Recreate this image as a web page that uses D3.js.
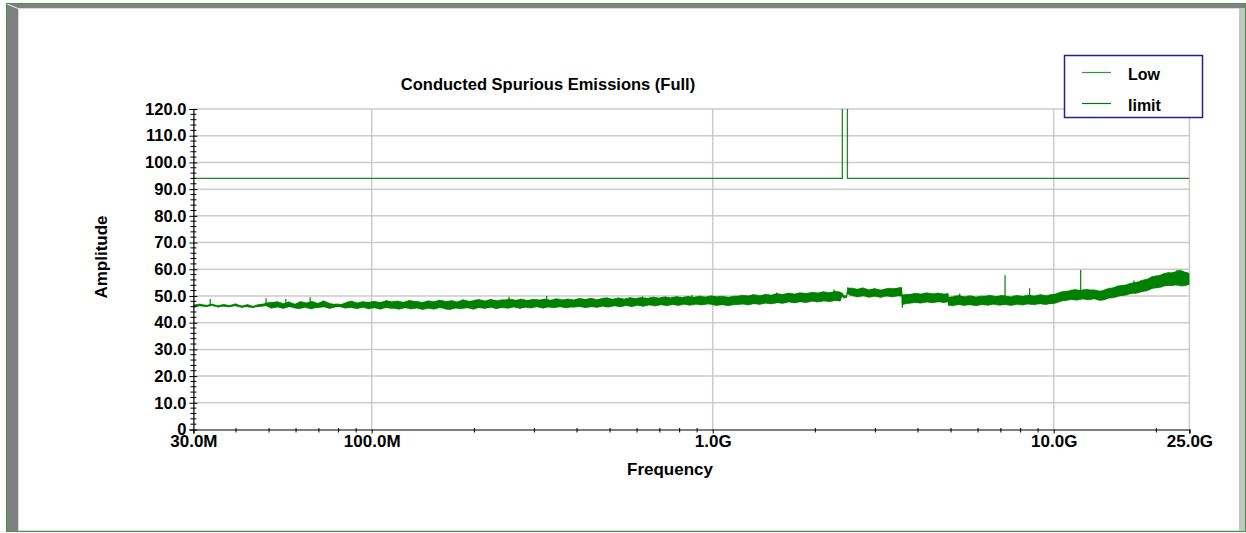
<!DOCTYPE html>
<html>
<head>
<meta charset="utf-8">
<script src="https://cdn.jsdelivr.net/npm/d3@7"></script>
<style>
  body { margin: 0; background: #fff; }
  text { font-family: "Liberation Sans", Arial, sans-serif; font-weight: bold; fill: #000; }
</style>
</head>
<body>
<svg id="chart" width="1246" height="533"></svg>
<script>
// sweep of the "Low" trace: frequency (MHz) with the min / max level of the noise band
const traceFreq = [
  30, 31.5, 33, 34.2, 35.6, 37, 38.5, 40, 41.7, 43.4, 45, 46.8, 48.7, 50.6, 52.7, 54.8, 57, 59.3,
  61.6, 64, 66.6, 69.3, 72, 74.9, 77.9, 81, 84.2, 87.6, 91, 94.7, 98.5, 102.4, 106.5, 110.8, 115.2,
  119.8, 124.6, 129.6, 134.8, 140.2, 145.8, 151.6, 157.7, 164, 170.6, 177.4, 184.5, 191.9, 199.6,
  207.6, 215.9, 224.5, 233.5, 242.8, 252.5, 262.6, 273.1, 284, 295.4, 307.2, 319.5, 332.3, 345.6,
  359.4, 373.8, 388.7, 404.3, 420.5, 437.3, 454.8, 473, 491.9, 511.6, 532, 553.3, 575.5, 598.5,
  622.4, 647.3, 673.2, 700.1, 728.1, 757.3, 787.6, 819.1, 851.8, 885.9, 921.3, 958.2, 996.5,
  1036, 1078, 1121, 1166, 1212, 1261, 1311, 1364, 1418, 1475, 1534, 1595, 1659, 1725, 1794, 1866,
  1941, 2018, 2099, 2183, 2270, 2361, 2395, 2420, 2470, 2490, 2540, 2640, 2745, 2855, 2970, 3090,
  3210, 3340, 3475, 3585, 3600, 3740, 3890, 4045, 4210, 4380, 4555, 4735, 4895, 4905, 5100, 5300,
  5515, 5735, 5965, 6205, 6455, 6710, 6980, 7260, 7550, 7850, 8165, 8490, 8830, 9185, 9550, 9935,
  10330, 10745, 11175, 11620, 12085, 12570, 13070, 13595, 14140, 14705, 15290, 15900, 16540,
  17200, 17890, 18600, 19345, 20120, 20925, 21760, 22630, 23535, 24480, 25000
]
const traceMin = [
  45.6, 46.2, 46.0, 46.3, 45.8, 46.1, 45.9, 46.2, 45.7, 45.9, 45.6, 46.0, 46.3, 45.4, 45.8, 45.3, 45.9, 45.5,
  45.2, 45.7, 45.1, 45.6, 45.9, 45.3, 45.8, 45.9, 45.4, 45.6, 45.2, 45.7, 45.1, 45.5, 45.0, 45.6, 45.3,
  45.0, 45.5, 45.1, 45.4, 44.9, 45.3, 45.0, 45.6, 45.1, 44.9, 45.4, 45.2, 45.5, 45.0,
  45.6, 45.3, 45.7, 45.2, 45.6, 45.4, 45.8, 45.3, 45.7, 45.5, 45.9, 45.4, 45.8, 45.6,
  45.9, 45.5, 45.8, 46.0, 45.6, 45.9, 45.7, 46.1, 45.8, 46.2, 45.9, 46.3, 46.0, 46.4,
  46.1, 46.5, 46.2, 46.6, 46.3, 46.7, 46.4, 46.8, 46.5, 46.8, 46.6, 46.9, 46.7,
  46.4, 46.6, 46.3, 46.7, 46.9, 46.6, 47.0, 46.8, 47.2, 47.0, 47.4, 47.2, 47.6, 47.4, 47.7, 47.5,
  47.9, 47.7, 48.0, 47.8, 48.2, 48.0, 49.8, 49.2, 49.4, 50.8, 50.2, 49.6, 50.0, 49.5, 49.8, 49.4,
  49.9, 49.6, 50.0, 49.8, 46.6, 47.2, 47.5, 47.3, 47.6, 47.4, 47.7, 47.5, 47.8, 46.5, 46.3, 46.7,
  46.4, 46.6, 46.3, 46.7, 46.5, 46.8, 46.5, 46.7, 46.4, 46.8, 46.6, 46.9, 46.7, 47.0, 46.8, 47.1,
  47.6, 48.2, 48.6, 48.4, 48.8, 48.5, 48.9, 48.3, 48.6, 49.2, 49.6, 50.1, 50.5,
  50.9, 51.3, 51.8, 52.6, 53.0, 53.5, 53.8, 54.0, 53.7, 53.9, 54.2
]
const traceMax = [
  46.6, 47.0, 46.6, 47.0, 46.4, 46.9, 46.5, 47.1, 46.3, 46.8, 46.2, 46.9, 47.3, 47.6, 47.9, 47.2, 47.8, 47.0,
  47.9, 47.5, 48.0, 47.3, 48.2, 47.4, 47.0, 46.9, 47.6, 48.1, 47.5, 47.9, 47.7, 48.0, 47.6, 48.3, 47.9,
  48.1, 47.7, 48.4, 48.0, 47.6, 48.2, 47.9, 48.5, 48.0, 48.3, 47.8, 48.6, 48.1, 48.4,
  48.7, 48.2, 48.8, 48.3, 48.6, 48.9, 48.5, 48.9, 48.4, 48.8, 48.6, 48.9, 48.5, 49.0,
  48.7, 48.9, 48.6, 49.1, 48.8, 49.2, 48.7, 49.1, 49.3, 48.9, 49.3, 49.0, 49.4, 49.1,
  49.5, 49.2, 49.6, 49.3, 49.7, 49.4, 49.8, 49.5, 49.9, 49.6, 50.0, 49.7, 50.1,
  49.8, 49.9, 49.6, 50.0, 50.3, 50.1, 50.5, 50.2, 50.6, 50.4, 50.9, 50.6, 51.1, 50.8, 51.2, 51.0,
  51.4, 51.2, 51.6, 51.3, 51.8, 51.5, 51.2, 50.2, 50.4, 53.2, 53.0, 52.6, 53.1, 52.4, 52.8, 52.3,
  52.7, 52.9, 53.0, 53.2, 50.4, 50.6, 51.0, 50.8, 51.2, 50.9, 51.1, 50.8, 51.0, 49.6, 49.9, 50.2,
  49.8, 50.1, 49.7, 50.0, 50.3, 49.9, 50.2, 50.0, 49.8, 50.3, 50.0, 50.4, 50.1, 50.5, 50.2, 50.6,
  51.2, 51.8, 52.1, 52.4, 52.2, 52.5, 52.3, 51.9, 52.4, 53.0, 53.6, 54.0, 54.5,
  55.0, 55.6, 56.2, 57.2, 57.6, 58.3, 58.8, 59.0, 59.7, 58.9, 58.4
]
// narrow spurs on the trace (MHz, level)
const spurFreq = [33.6, 49, 56, 66, 252.7, 326, 623, 870, 1540, 2270, 3600, 5300, 7200, 8500, 12000, 17200, 23000]
const spurLevel = [48.9, 49.1, 48.9, 49.5, 49.7, 50.0, 49.8, 50.4, 51.3, 52.4, 45.6, 50.9, 57.8, 52.9, 59.7, 55.8, 59.7]

// limit line, opened up over the 2.4 GHz band
const limitFreq = [30, 2400, 2400, 2483.5, 2483.5, 25000]
const limitLevel = [94, 94, 160, 160, 94, 94]

const yMajor = [0, 10, 20, 30, 40, 50, 60, 70, 80, 90, 100, 110, 120]
const xMajor = [30, 100, 1000, 10000, 25000]
const xMajorLabels = ['30.0M', '100.0M', '1.0G', '10.0G', '25.0G']
const xGrid = [100, 1000, 10000]

var svg = d3.select('#chart')

// window frame
svg.append('rect').attr('x', 0).attr('y', 0).attr('width', 1246).attr('height', 533).attr('fill', '#fff')
svg.append('rect').attr('x', 7).attr('y', 4).attr('width', 11).attr('height', 527).attr('fill', '#808080')
svg.append('rect').attr('x', 7).attr('y', 4).attr('width', 1239).attr('height', 4).attr('fill', '#808080')
svg.append('rect').attr('x', 1239).attr('y', 8).attr('width', 7).attr('height', 523).attr('fill', '#c4c4c4')
svg.append('line').attr('x1', 18.5).attr('x2', 18.5).attr('y1', 8).attr('y2', 530).attr('stroke', '#d8d8d8')
svg.append('line').attr('x1', 18).attr('x2', 1239).attr('y1', 8.5).attr('y2', 8.5).attr('stroke', '#d8d8d8')
svg.append('line').attr('x1', 18).attr('x2', 1239).attr('y1', 530.5).attr('y2', 530.5).attr('stroke', '#d8d8d8')
svg.append('line').attr('x1', 7).attr('x2', 18).attr('y1', 4).attr('y2', 8.5).attr('stroke', '#f0f0f0')
svg.append('rect').attr('x', 6.5).attr('y', 3.5).attr('width', 1239).attr('height', 528)
  .attr('fill', 'none').attr('stroke', '#3f9a3f')

var plotLeft = 193.4
var plotRight = 1189.4
var plotTop = 109
var plotBottom = 429.5

var x = d3.scaleLog().domain([30, 25000]).range([plotLeft, plotRight])
var y = d3.scaleLinear().domain([0, 120]).range([plotBottom, plotTop])

// grid
var grid = svg.append('g').attr('stroke', '#cbcbcb').attr('stroke-width', 1.5)
grid.selectAll('.hg').data(yMajor.slice(1)).enter().append('line')
  .attr('x1', plotLeft).attr('x2', plotRight)
  .attr('y1', d => y(d)).attr('y2', d => y(d))
grid.selectAll('.vg').data(xGrid.concat([25000])).enter().append('line')
  .attr('x1', d => x(d)).attr('x2', d => x(d))
  .attr('y1', plotTop).attr('y2', plotBottom)

svg.append('clipPath').attr('id', 'plot').append('rect')
  .attr('x', plotLeft).attr('y', plotTop).attr('width', plotRight - plotLeft).attr('height', plotBottom - plotTop)

var plot = svg.append('g').attr('clip-path', 'url(#plot)')

// limit
var limitLine = d3.line().x(d => x(d[0])).y(d => y(d[1]))
plot.append('path')
  .attr('d', limitLine(limitFreq.map((f, i) => [f, limitLevel[i]])))
  .attr('fill', 'none').attr('stroke', '#1f8a1f').attr('stroke-width', 1.3)

// Low trace: min/max band, then a zigzag through the same min/max points for the noisy edge
var pts = traceFreq.map((f, i) => ({ f: f, lo: traceMin[i], hi: traceMax[i] }))
var band = d3.area().x(d => x(d.f)).y0(d => y(d.lo)).y1(d => y(d.hi))
plot.append('path').attr('d', band(pts))
  .attr('fill', '#008000').attr('stroke', 'none')

var zig = []
pts.forEach(function (p, i) {
  if (i % 2) zig.push([p.f, p.hi], [p.f, p.lo])
  else zig.push([p.f, p.lo], [p.f, p.hi])
})
plot.append('path').attr('d', limitLine(zig))
  .attr('fill', 'none').attr('stroke', '#008000').attr('stroke-width', 1).attr('stroke-opacity', 0.75)

var bis = d3.bisector(d => d.f).left
plot.selectAll('.spur').data(spurFreq).enter().append('line')
  .attr('x1', d => x(d)).attr('x2', d => x(d))
  .attr('y1', (d, i) => y(spurLevel[i]))
  .attr('y2', function (d) {
    var p = pts[Math.min(bis(pts, d), pts.length - 1)]
    return y((p.lo + p.hi) / 2)
  })
  .attr('stroke', '#008000').attr('stroke-width', 1.2)

// y axis
var yAxis = svg.append('g').attr('transform', 'translate(' + plotLeft + ',0)')
  .call(d3.axisLeft(y).tickValues(yMajor).tickSize(4).tickPadding(3)
    .tickFormat(d => d === 0 ? '0' : d3.format('.1f')(d)))
yAxis.select('.domain').attr('stroke', '#000').attr('stroke-width', 1.2)
yAxis.selectAll('.tick line').attr('x1', 4).attr('x2', -4).attr('stroke', '#000')
yAxis.selectAll('.tick text').attr('font-size', 16.5).attr('font-family', null).attr('fill', '#000')
yAxis.selectAll('.minor').data(d3.range(0, 121, 2).filter(v => v % 10 !== 0)).enter().append('line')
  .attr('x1', -3).attr('x2', 3).attr('y1', d => y(d)).attr('y2', d => y(d)).attr('stroke', '#000')

// x axis
var xMinor = []
;[10, 100, 1000, 10000].forEach(function (dec) {
  for (var k = 2; k <= 9; k++) {
    var v = dec * k
    if (v > 30 && v < 25000) xMinor.push(v)
  }
})
var xAxis = svg.append('g').attr('transform', 'translate(0,' + plotBottom + ')')
  .call(d3.axisBottom(x).tickValues(xMajor).tickSize(4).tickPadding(2)
    .tickFormat((d, i) => xMajorLabels[i]))
xAxis.select('.domain').attr('stroke', '#000').attr('stroke-width', 1.2)
xAxis.selectAll('.tick line').attr('stroke', '#000')
xAxis.selectAll('.tick text').attr('font-size', 17).attr('font-family', null).attr('fill', '#000')
  .attr('dy', null).attr('y', 17)
xAxis.selectAll('.minor').data(xMinor).enter().append('line')
  .attr('x1', d => x(d)).attr('x2', d => x(d)).attr('y1', -1.5).attr('y2', 3).attr('stroke', '#000')

// titles
svg.append('text').attr('x', 548).attr('y', 90).attr('text-anchor', 'middle')
  .attr('font-size', 16.5).text('Conducted Spurious Emissions (Full)')
svg.append('text').attr('x', 670).attr('y', 475).attr('text-anchor', 'middle')
  .attr('font-size', 17).text('Frequency')
svg.append('text').attr('transform', 'translate(107,257) rotate(-90)').attr('text-anchor', 'middle')
  .attr('font-size', 17).text('Amplitude')

// legend
var legend = svg.append('g')
legend.append('rect').attr('x', 1064.5).attr('y', 55.5).attr('width', 138).attr('height', 62)
  .attr('fill', '#fff').attr('stroke', '#202090').attr('stroke-width', 1.5)
var legendNames = ['Low', 'limit']
var legendColors = ['#2c9a2c', '#007a00']
legendNames.forEach(function (name, i) {
  var ly = 72.5 + i * 31
  legend.append('line').attr('x1', 1082).attr('x2', 1111).attr('y1', ly).attr('y2', ly)
    .attr('stroke', legendColors[i]).attr('stroke-width', 1.2)
  legend.append('text').attr('x', 1128).attr('y', ly + 7).attr('font-size', 16).text(name)
})
</script>
</body>
</html>
